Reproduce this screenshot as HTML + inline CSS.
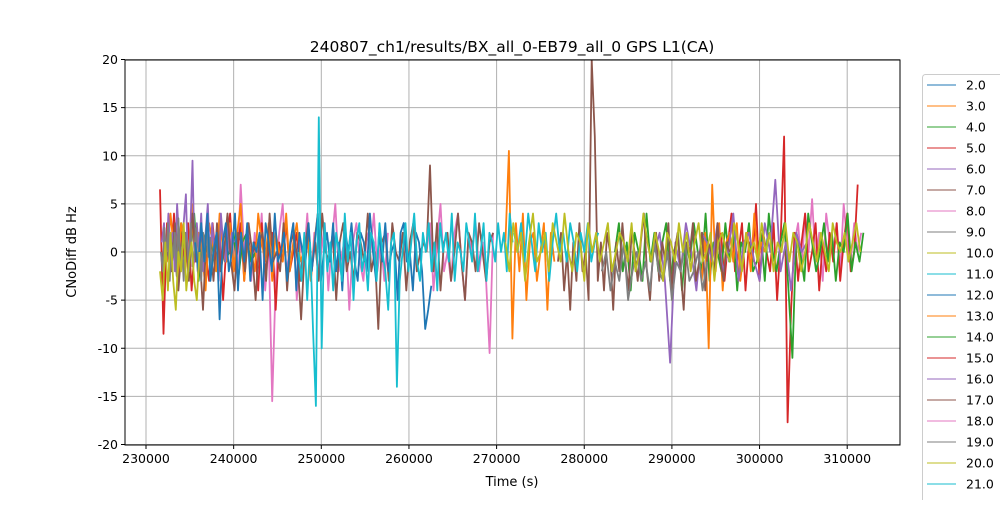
<!DOCTYPE html>
<html><head><meta charset="utf-8"><style>
html,body{margin:0;padding:0;background:#fff;}
svg text{font-family:"DejaVu Sans","Liberation Sans",sans-serif;fill:#000;}
</style></head><body>
<svg id="chart" width="1000" height="500" viewBox="0 0 1000 500" xmlns="http://www.w3.org/2000/svg">
<defs><clipPath id="pc"><rect x="125" y="60" width="775" height="385"/></clipPath></defs>
<rect x="0" y="0" width="1000" height="500" fill="#fff"/>
<text x="512" y="52" font-size="15.5" text-anchor="middle">240807_ch1/results/BX_all_0-EB79_all_0 GPS L1(CA)</text>
<g id="grid"></g>
<g id="series" clip-path="url(#pc)"></g>
<rect x="125" y="60" width="775" height="385" fill="none" stroke="#000" stroke-width="1"/>
<g id="axes"></g>
<text x="512" y="486" font-size="13" text-anchor="middle">Time (s)</text>
<text x="76" y="252" font-size="13" text-anchor="middle" transform="rotate(-90 76 252)">CNoDiff dB Hz</text>
<g id="legend"></g>
</svg>
<script>
const xTicks=[230000,240000,250000,260000,270000,280000,290000,300000,310000];
const yTicks=[-20,-15,-10,-5,0,5,10,15,20];
const legendLabels=["2.0","3.0","4.0","5.0","6.0","7.0","8.0","9.0","10.0","11.0","12.0","13.0","14.0","15.0","16.0","17.0","18.0","19.0","20.0","21.0","22.0"];
const palette=["#1f77b4","#ff7f0e","#2ca02c","#d62728","#9467bd","#8c564b","#e377c2","#7f7f7f","#bcbd22","#17becf"];

const pink8a=[1,-2,7,0,3,-3,2,-1,4,-4,1,-15.5,-3,2,5,-2,0,3,-5,1,-1,4,-3,2,-2,0,3,-4,1,5,-2,0,2,-6,1,3,-1,-3,2,0,4,-2,1,-3,2];
const pink8b=[0,3,-4,1,5,-2,0,-3,2,4,-1,-5,2,0,3,-2,1,-3,-10.5,2];
const pink8c=[1,3,-2,4,0,5.5,-1,2,-3,4,1,0,3,-2,5,1,-1,3,0,2];
const red5a=[6.5,-8.5,3,-2,4,-3,2,-1,3,-4,1,-2,2,0,-3,3,-1,2,-5,1,4,-2,0,3,-3,2,-1,1,-4,3,-2,0,2,-6,1,-1,3,-2,0,2,-3,1];
const red5b=[2,-3,1,4,-2,0,3,-4,1,-1,5,-3,2,0,-2,3,-5,1,12,-17.7,-6,2,-3,1,4,-2,0,3,-4,1,-2,2,-1,3,-3,1,4,-2,0,7];
const green4a=[1,-2,3,0,-1,4,-3,2,0,1,-2,3,-1,0,2,-3,1,2,-1,0];
const green4b=[0,3,-2,1,-4,2,0,-3,4,-1,2,-2,1,3,-3,0,2,-4,1,-1,3,0,-2,4,-3,1,0,-2,3,-1,2,-4,1,0,3,-2,-1,2,-3,4,0,-2,1,3,-4,-11,2,0,-3,4,1,-2,0,3,-1,2,-3,1,0,4,-2,1,-1,2];
const orange3a=[2,-1,4,0,-3,3,1,-2,5,-1,2,0,-4,3,1,-2,4,0,-1,3,-2,2,5,-3,1,0,-2,4,1,-1,3,-3,2,0,-1,4,-2,1,3,-1,0,2,-3,1,4];
const orange3b=[1,10.5,-9,3,-2,4,-5,1,2,-3,0,3,-6,2,-1];
const orange3c=[0,-3,2,-10,7,-2,3,-4,1,2,-1,3,-3,0,2,-2,4,-1,1,0];
const purple6a=[1,3,-1,4,0,2,-2,5,1,-1,3,6,-2,2,9.5,-1,3,0,4,-2,2,5,-1,3,0,2,-3,4,1,-1,3,0,2,1];
const purple6b=[0,2,-3,-11.5,1,-2,3,0,-4,2,1,-1,3,-2,0,4,-3,1,2,-1,-3,3,0,7.5,-2,1,-4,2,0,1];
const brown7a=[0,-2,3,-4,1,2,-3,4,-1,0,-6,2,1,-3,3,-2,0,4,-1,-4,2,1,-2,3,0,-5,1,2,-3,4,-1,0,-2,3,-4,1,2,-1,-7,0,3,-2,1,-3,4,0,-1,2,-5,1,3,-2,0,-3,2,1,-1,4,-2,0,-8,1,2,-3,3,0,-1,2,-4,1,3,-2,0,1];
const brown7b=[0,9,-2,3,-4,1,2,-3,0,4,-1,-5,2,1,-2,3,0,-3,1,2];
const brown7c=[-1,2,-4,0,-6,1,-3,3,-2,0,-5,20,12,-3,1,-4,2,0,-6,1,-2,3,-1,-4,2,0,-3,1,4,-2,-5,0,2,-3,1,-1,3,-4,0,2,-2,-6,1,0,3,-3,-1,2,-4,1,0,-2,3,-1,-3,1,0];
const grey9a=[0,-2,2.5,-1,3,-3,1,-0.5,2,-2.5,3.5,-1,0.5,-3,2,1,-2,3,-1.5,0,2.5,-2,1,-3,2,-1,3,-0.5,1.5,-2,0.5,1];
const grey9b=[-2,0,-4,-1,-3,1,-5,-2,0,-3,-1,-4,1,-2,-3,0,-5,-1,-2,1,-3,-2,0,-4,-1];
const blue2=[1,-2,3,-1,4,-3,0,2,-7,1,3,-2,0,4,-4,2,-1,3,-3,1,0,2,-5,3,1,-2,4,-1,0,2,-3,1,3,-4,2,0,-1,3,-2,1,4,-3,0,2,-1,3,-2,1,-4,2,0,3,-1,-3,2,1,-2,4,0,-3,2,-1,3,-2,0,1,-5,2,3,-1,0,-4,2,1,-2,-8,-6,-3.5];
const cyan11a=[0,-3,2,-5,1,-8,-16,14,-10,3,-2,1,-4,2,0,-3,4,-1,2,-5,1,3,-2,0,-4,2,1,-3,3,0,-2,-6,1,2,-14,-3,0,3,-2,1,4,-1,-3,2,0,3,-2,1,-4,3,0,2,-1,4,-3,1,0,-2,3,1,-1,4,-2,0,3,-3,2,1,-1,3,0,2,-2,4,1];
const cyan11b=[2,0,3,-1,4,1,-2,3,0,2,-3,1,4,0,2,-1,3,1,-2,2,0,3,-1,1,2];
const olive10a=[-2,-5,1,-4,2,-3,-6,0,-2,3,-4,-1,1,-3,-5,0];
const olive10b=[1,-2,3,0,2,-3,1,4,-1,0,2,-2,3,1,-1,4,0,-2,2,1,-3,3,0,2,-1,1,3,-2,0,2,1,-1,3,-2,0,4,1,-1,2,0,-3,2,1,-1,3,0,2,-2,1,3,-1,0,2,-3,1,2,0,-1,3,1,-2,2,0,1,-1,3,0,2,-2,1,0,3,-1,2,1,-2,0,3,1,-1,2,0,-2,3,1,0,2,-1,1,3,0];

const seriesDefs=[
 {name:"series-8-0-a",c:6,t0:240000,step:400,v:pink8a},
 {name:"series-8-0-b",c:6,t0:262000,step:400,v:pink8b},
 {name:"series-8-0-c",c:6,t0:304000,step:400,v:pink8c},
 {name:"series-5-0-a",c:3,t0:231600,step:400,v:red5a},
 {name:"series-5-0-b",c:3,t0:295600,step:400,v:red5b},
 {name:"series-4-0-a",c:2,t0:233000,step:500,v:green4a},
 {name:"series-4-0-b",c:2,t0:283500,step:450,v:green4b},
 {name:"series-3-0-a",c:1,t0:232000,step:400,v:orange3a},
 {name:"series-3-0-b",c:1,t0:271000,step:400,v:orange3b},
 {name:"series-3-0-c",c:1,t0:293000,step:400,v:orange3c},
 {name:"series-6-0-a",c:4,t0:231800,step:250,v:purple6a},
 {name:"series-6-0-b",c:4,t0:288000,step:600,v:purple6b},
 {name:"series-7-0-a",c:5,t0:232500,step:400,v:brown7a},
 {name:"series-7-0-b",c:5,t0:262000,step:400,v:brown7b},
 {name:"series-7-0-c",c:5,t0:277000,step:350,v:brown7c},
 {name:"series-9-0-a",c:7,t0:231700,step:200,v:grey9a},
 {name:"series-9-0-b",c:7,t0:282000,step:500,v:grey9b},
 {name:"series-2-0",c:0,t0:235600,step:350,v:blue2},
 {name:"series-11-0-a",c:9,t0:247400,step:330,v:cyan11a},
 {name:"series-11-0-b",c:9,t0:272000,step:400,v:cyan11b},
 {name:"series-10-0-a",c:8,t0:231600,step:300,v:olive10a},
 {name:"series-10-0-b",c:8,t0:271000,step:450,v:olive10b}
];
const NS="http://www.w3.org/2000/svg";
const X0=125,X1=900,Y0=60,Y1=445;
function xs(t){return 146+(t-230000)*0.008765;}
function ys(v){return 252-v*9.625;}
const grid=document.getElementById('grid'),axes=document.getElementById('axes');
xTicks.forEach(t=>{
 const l=document.createElementNS(NS,'line');
 
 
 l.setAttribute('x1',xs(t));l.setAttribute('x2',xs(t));l.setAttribute('y1',Y0);l.setAttribute('y2',Y1);
 l.setAttribute('stroke','#b0b0b0');l.setAttribute('stroke-width','1');grid.appendChild(l);
 const k=document.createElementNS(NS,'line');
 
 
 k.setAttribute('x1',xs(t));k.setAttribute('x2',xs(t));k.setAttribute('y1',Y1);k.setAttribute('y2',Y1+4);
 k.setAttribute('stroke','#000');axes.appendChild(k);
 const tx=document.createElementNS(NS,'text');
 
 
 tx.setAttribute('x',xs(t));tx.setAttribute('y',Y1+18);tx.setAttribute('font-size','12.5');tx.setAttribute('text-anchor','middle');
 tx.textContent=t;axes.appendChild(tx);
});
yTicks.forEach(v=>{
 const l=document.createElementNS(NS,'line');
 
 
 l.setAttribute('x1',X0);l.setAttribute('x2',X1);l.setAttribute('y1',ys(v));l.setAttribute('y2',ys(v));
 l.setAttribute('stroke','#b0b0b0');l.setAttribute('stroke-width','1');grid.appendChild(l);
 const k=document.createElementNS(NS,'line');
 
 
 k.setAttribute('x1',X0-4);k.setAttribute('x2',X0);k.setAttribute('y1',ys(v));k.setAttribute('y2',ys(v));
 k.setAttribute('stroke','#000');axes.appendChild(k);
 const tx=document.createElementNS(NS,'text');
 
 
 tx.setAttribute('x',X0-7);tx.setAttribute('y',ys(v)+4.5);tx.setAttribute('font-size','12.5');tx.setAttribute('text-anchor','end');
 tx.textContent=v;axes.appendChild(tx);
});
const sg=document.getElementById('series');
seriesDefs.forEach(s=>{
 const p=document.createElementNS(NS,'polyline');
 
 
 p.setAttribute('points',s.v.map((v,i)=>xs(s.t0+i*s.step).toFixed(1)+','+ys(Math.max(-20.5,Math.min(20.5,v))).toFixed(1)).join(' '));
 p.setAttribute('fill','none');p.setAttribute('stroke',palette[s.c]);p.setAttribute('stroke-width','1.8');
 p.setAttribute('stroke-linejoin','round');
 sg.appendChild(p);
});
const lg=document.getElementById('legend');
const box=document.createElementNS(NS,'rect');


box.setAttribute('x',922.5);box.setAttribute('y',74.5);box.setAttribute('width',90);box.setAttribute('height',440);box.setAttribute('rx',3);
box.setAttribute('fill','#fff');box.setAttribute('stroke','#ccc');lg.appendChild(box);
legendLabels.forEach((lab,i)=>{
 const y=85+i*21;
 const l=document.createElementNS(NS,'line');
 
 
 l.setAttribute('x1',927);l.setAttribute('x2',956);l.setAttribute('y1',y);l.setAttribute('y2',y);
 l.setAttribute('stroke',palette[i%10]);l.setAttribute('stroke-width','1');lg.appendChild(l);
 const t=document.createElementNS(NS,'text');
 
 
 t.setAttribute('x',966);t.setAttribute('y',y+4.5);t.setAttribute('font-size','12.5');
 t.textContent=lab;lg.appendChild(t);
});
</script>
</body></html>
